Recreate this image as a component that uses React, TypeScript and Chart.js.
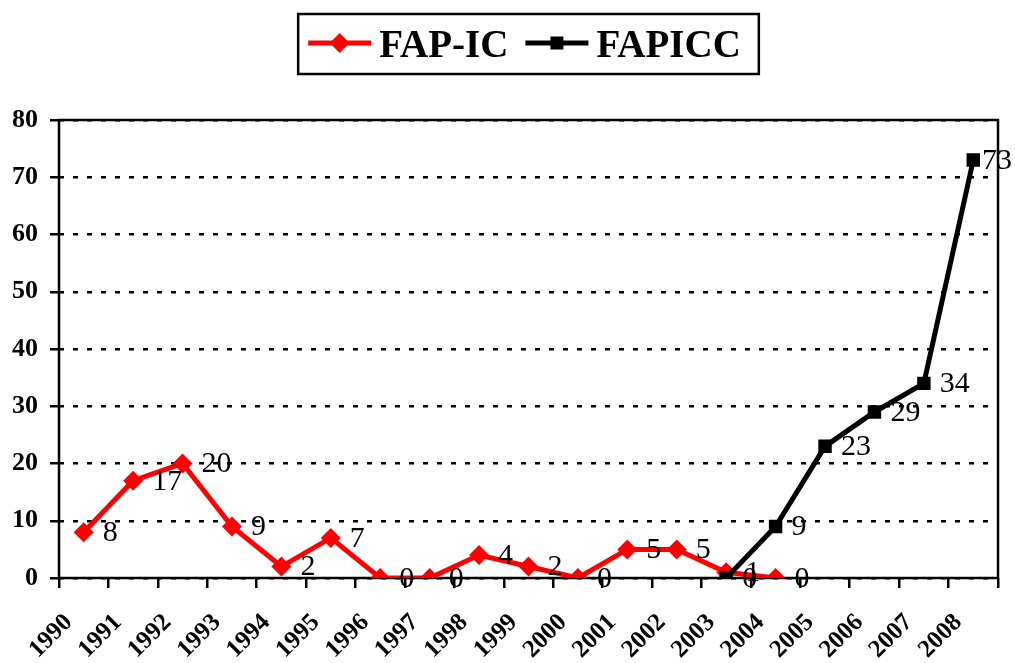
import React, { useEffect, useRef } from "react";
import { Chart, registerables } from "chart.js";

Chart.register(...registerables);

const years = [
  "1990", "1991", "1992", "1993", "1994", "1995", "1996", "1997", "1998", "1999",
  "2000", "2001", "2002", "2003", "2004", "2005", "2006", "2007", "2008",
];
const fapIc: (number | null)[] = [8, 17, 20, 9, 2, 7, 0, 0, 4, 2, 0, 5, 5, 1, 0, null, null, null, null];
const fapicc: (number | null)[] = [
  null, null, null, null, null, null, null, null, null, null, null, null, null,
  0, 9, 23, 29, 34, 73,
];
const seriesNames = ["FAP-IC", "FAPICC"];
const seriesColors = ["#FF0000", "#000000"];
const yMin = 0;
const yMax = 80;
const yStep = 10;

const SERIF = '"Liberation Serif", "Times New Roman", Times, serif';

function drawMarker(ctx: CanvasRenderingContext2D, style: string, x: number, y: number, color: string) {
  ctx.save();
  ctx.fillStyle = color;
  ctx.beginPath();
  if (style === "rectRot") {
    const r = 10;
    ctx.moveTo(x, y - r);
    ctx.lineTo(x + r, y);
    ctx.lineTo(x, y + r);
    ctx.lineTo(x - r, y);
    ctx.closePath();
  } else {
    const s = 6.5;
    ctx.rect(x - s, y - s, 2 * s, 2 * s);
  }
  ctx.fill();
  ctx.restore();
}

const framePlugin = {
  id: "frame",
  beforeDatasetsDraw(chart: any) {
    const { ctx, chartArea } = chart;
    ctx.save();
    ctx.strokeStyle = "#000";
    ctx.lineWidth = 2.5;
    ctx.setLineDash([]);
    ctx.strokeRect(chartArea.left, chartArea.top, chartArea.right - chartArea.left, chartArea.bottom - chartArea.top);
    ctx.restore();
  },
};

const labelPlugin = {
  id: "valueLabels",
  afterDatasetsDraw(chart: any) {
    const { ctx } = chart;
    ctx.save();
    ctx.font = `30px ${SERIF}`;
    ctx.fillStyle = "#000";
    ctx.textBaseline = "middle";
    ctx.textAlign = "left";
    chart.data.datasets.forEach((ds: any, di: number) => {
      const meta = chart.getDatasetMeta(di);
      const off = di === 0 ? 19 : 16;
      meta.data.forEach((pt: any, i: number) => {
        const v = ds.data[i];
        if (v === null || v === undefined) return;
        const txt = String(v);
        const w = ctx.measureText(txt).width;
        const x = Math.min(pt.x + off, chart.width - w - 3);
        ctx.fillText(txt, x, pt.y + 1);
      });
    });
    ctx.restore();
  },
};

const legendPlugin = {
  id: "boxLegend",
  afterDraw(chart: any) {
    const { ctx, chartArea } = chart;
    ctx.save();
    ctx.font = `bold 39px ${SERIF}`;
    const widths = seriesNames.map((n) => ctx.measureText(n).width);
    const padL = 10, lineLen = 63, gapT = 8, gapItem = 17, padR = 18;
    const total = padL + 2 * lineLen + 2 * gapT + widths[0] + widths[1] + gapItem + padR;
    const cx = (chartArea.left + chartArea.right) / 2;
    const left = cx - total / 2;
    const top = 14;
    const h = 60;
    ctx.strokeStyle = "#000";
    ctx.lineWidth = 2.5;
    ctx.strokeRect(left, top, total, h);
    const midY = top + 29;
    let x = left + padL;
    const styles = ["rectRot", "rect"];
    seriesNames.forEach((name, i) => {
      ctx.strokeStyle = seriesColors[i];
      ctx.lineWidth = 5;
      ctx.beginPath();
      ctx.moveTo(x, midY);
      ctx.lineTo(x + lineLen, midY);
      ctx.stroke();
      drawMarker(ctx, styles[i], x + lineLen / 2, midY, seriesColors[i]);
      x += lineLen + gapT;
      ctx.fillStyle = "#000";
      ctx.textBaseline = "alphabetic";
      ctx.textAlign = "left";
      ctx.fillText(name, x, top + 43);
      x += widths[i] + gapItem;
    });
    ctx.restore();
  },
};

export default function App() {
  const ref = useRef<HTMLCanvasElement | null>(null);
  useEffect(() => {
    let chart: any = null;
    let cancelled = false;
    const build = () => {
      if (cancelled || !ref.current) return;
      chart = new Chart(ref.current, {
        type: "line",
        data: {
          labels: years,
          datasets: [
            {
              label: seriesNames[0],
              data: fapIc,
              borderColor: seriesColors[0],
              backgroundColor: seriesColors[0],
              borderWidth: 5,
              pointStyle: "rectRot",
              pointRadius: 10,
              pointBorderWidth: 0,
              pointBackgroundColor: seriesColors[0],
              pointBorderColor: seriesColors[0],
              tension: 0,
              spanGaps: false,
              order: 1,
            },
            {
              label: seriesNames[1],
              data: fapicc,
              borderColor: seriesColors[1],
              backgroundColor: seriesColors[1],
              borderWidth: 5,
              pointStyle: "rect",
              pointRadius: 9.5,
              pointBorderWidth: 0,
              pointBackgroundColor: seriesColors[1],
              pointBorderColor: seriesColors[1],
              tension: 0,
              spanGaps: false,
              order: 0,
            },
          ],
        },
        options: {
          animation: false,
          responsive: true,
          maintainAspectRatio: false,
          layout: { padding: { top: 120, right: 17, left: 0, bottom: 0 } },
          plugins: {
            legend: { display: false },
            tooltip: { enabled: false },
          },
          scales: {
            x: {
              type: "category",
              offset: true,
              grid: {
                display: true,
                drawOnChartArea: false,
                drawTicks: true,
                tickLength: 10,
                color: "#000",
                lineWidth: 2.5,
                offset: true,
              },
              border: { display: false },
              ticks: {
                autoSkip: false,
                maxRotation: 45,
                minRotation: 45,
                color: "#000",
                padding: 20,
                labelOffset: -15,
                font: { family: SERIF, size: 25, weight: "bold" },
              },
              afterFit: (scale: any) => {
                scale.height = 85;
              },
            },
            y: {
              min: yMin,
              max: yMax,
              ticks: {
                stepSize: yStep,
                color: "#000",
                padding: 12,
                font: { family: SERIF, size: 26, weight: "bold" },
              },
              grid: {
                color: "#000",
                lineWidth: 2.5,
                drawTicks: true,
                tickLength: 9,
              },
              border: { display: false, dash: [5, 9] },
              afterFit: (scale: any) => {
                scale.width = 59;
              },
            },
          },
        },
        plugins: [framePlugin, labelPlugin, legendPlugin],
      } as any);
    };
    const fonts: any = (document as any).fonts;
    if (fonts && fonts.load) {
      Promise.all([
        fonts.load('bold 25px "Liberation Serif"'),
        fonts.load('30px "Liberation Serif"'),
        fonts.load('bold 39px "Liberation Serif"'),
      ]).then(build, build);
    } else {
      build();
    }
    return () => {
      cancelled = true;
      if (chart) chart.destroy();
    };
  }, []);
  return (
    <div style={{ position: "fixed", left: 0, top: 0, width: 1015, height: 663, background: "#fff" }}>
      <canvas ref={ref} />
    </div>
  );
}
